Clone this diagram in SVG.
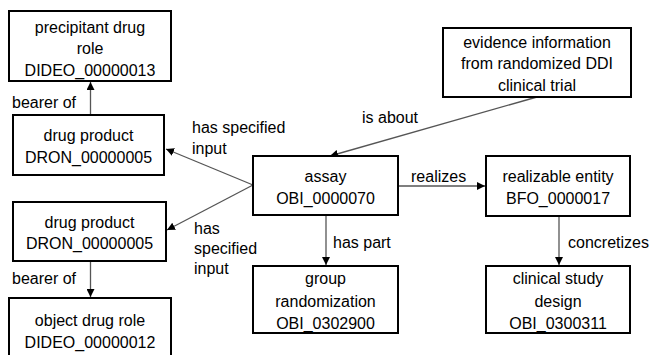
<svg xmlns="http://www.w3.org/2000/svg" width="655" height="355" viewBox="0 0 655 355">
<defs>
<marker id="ah" viewBox="0 0 10 10" refX="10" refY="5" markerWidth="8" markerHeight="8" markerUnits="userSpaceOnUse" orient="auto">
<path d="M0,0 L10,5 L0,10 Z" fill="#000"/>
</marker>
</defs>
<style>
.box{fill:#fff;stroke:#000;stroke-width:2}
text{font-family:"Liberation Sans",Arial,sans-serif;font-size:16px;fill:#000}
.c{text-anchor:middle}
.e{fill:none;stroke:#555;stroke-width:1.3;marker-end:url(#ah)}
</style>
<g id="connectors">
<line class="e" x1="90.5" y1="115" x2="90.5" y2="82"/>
<line class="e" x1="90.5" y1="261" x2="90.5" y2="297"/>
<line class="e" x1="253" y1="185" x2="166" y2="149"/>
<line class="e" x1="253" y1="185" x2="167" y2="230"/>
<line class="e" x1="537" y1="97" x2="330" y2="156"/>
<line class="e" x1="398" y1="186" x2="485" y2="186"/>
<line class="e" x1="326" y1="215" x2="326" y2="265"/>
<line class="e" x1="559" y1="216" x2="559" y2="265"/>
<text x="12" y="108">bearer of</text>
<text x="12" y="284">bearer of</text>
<text x="192" y="133">has specified</text>
<text x="192" y="154">input</text>
<text x="194" y="234">has</text>
<text x="194" y="254">specified</text>
<text x="194" y="274">input</text>
<text x="362" y="123">is about</text>
<text x="411" y="182">realizes</text>
<text x="333" y="248">has part</text>
<text x="568" y="248">concretizes</text>
</g>
<g id="precipitant">
<rect class="box" x="9" y="11" width="162" height="70"/>
<text class="c" x="90" y="33">precipitant drug</text>
<text class="c" x="90" y="54">role</text>
<text class="c" x="90" y="76">DIDEO_00000013</text>
</g>
<g id="drug1">
<rect class="box" x="13" y="115" width="151" height="60"/>
<text class="c" x="88.5" y="141">drug product</text>
<text class="c" x="88.5" y="163">DRON_00000005</text>
</g>
<g id="drug2">
<rect class="box" x="13" y="202" width="153" height="59"/>
<text class="c" x="89.5" y="228">drug product</text>
<text class="c" x="89.5" y="249">DRON_00000005</text>
</g>
<g id="object">
<rect class="box" x="9" y="298" width="162" height="62"/>
<text class="c" x="90" y="326">object drug role</text>
<text class="c" x="90" y="348">DIDEO_00000012</text>
</g>
<g id="evidence">
<rect class="box" x="443" y="28" width="188" height="69"/>
<text class="c" x="537" y="48">evidence information</text>
<text class="c" x="537" y="69">from randomized DDI</text>
<text class="c" x="537" y="91">clinical trial</text>
</g>
<g id="assay">
<rect class="box" x="253" y="156" width="145" height="59"/>
<text class="c" x="325.5" y="182">assay</text>
<text class="c" x="325.5" y="204">OBI_0000070</text>
</g>
<g id="realizable">
<rect class="box" x="486" y="156" width="144" height="60"/>
<text class="c" x="558" y="182">realizable entity</text>
<text class="c" x="558" y="204">BFO_0000017</text>
</g>
<g id="group">
<rect class="box" x="253" y="266" width="145" height="67"/>
<text class="c" x="325.5" y="284">group</text>
<text class="c" x="325.5" y="307">randomization</text>
<text class="c" x="325.5" y="329">OBI_0302900</text>
</g>
<g id="clinical">
<rect class="box" x="486" y="266" width="144" height="67"/>
<text class="c" x="558" y="284">clinical study</text>
<text class="c" x="558" y="307">design</text>
<text class="c" x="558" y="329">OBI_0300311</text>
</g>
</svg>
